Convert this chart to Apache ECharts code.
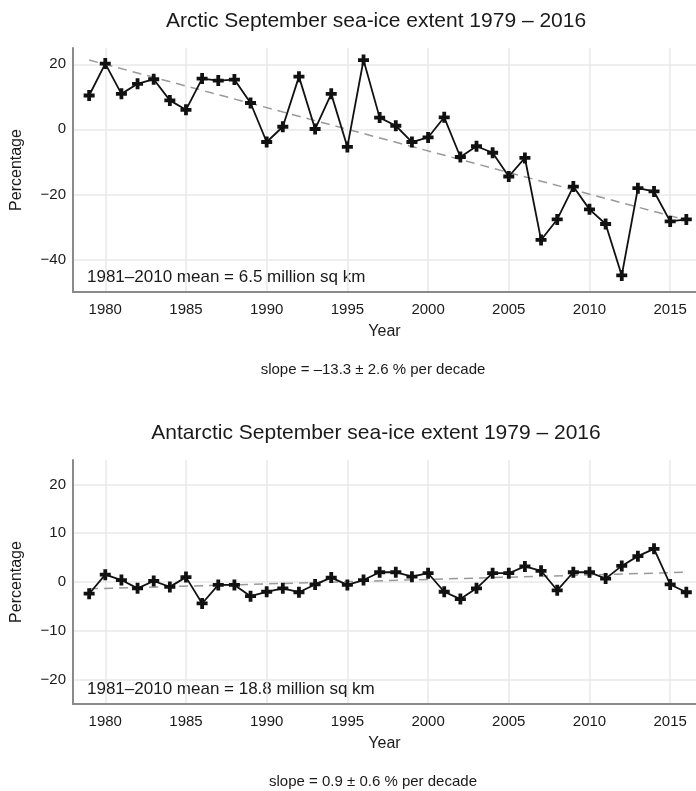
<!DOCTYPE html>
<html>
<head>
<meta charset="utf-8">
<script src="https://cdn.jsdelivr.net/npm/echarts@6/dist/echarts.min.js"></script>
<style>
  html, body { margin: 0; padding: 0; background: #fff; }
  #chart { width: 696px; height: 791px; }
</style>
</head>
<body>
<div id="chart"></div>
<script>
// years on the x axis
const years = [1979, 1980, 1981, 1982, 1983, 1984, 1985, 1986, 1987, 1988,
  1989, 1990, 1991, 1992, 1993, 1994, 1995, 1996, 1997, 1998,
  1999, 2000, 2001, 2002, 2003, 2004, 2005, 2006, 2007, 2008,
  2009, 2010, 2011, 2012, 2013, 2014, 2015, 2016];

// September extent anomaly, % of 1981-2010 mean
const arctic = [10.4, 20.2, 10.9, 14.0, 15.4, 8.9, 6.0, 15.6, 15.0, 15.3,
  8.1, -3.9, 0.8, 16.2, 0.1, 10.9, -5.4, 21.3, 3.6, 1.1,
  -3.9, -2.5, 3.7, -8.5, -5.2, -7.2, -14.5, -8.8, -34.0, -27.7,
  -17.6, -24.6, -29.1, -44.9, -18.1, -19.1, -28.3, -27.7];
const antarctic = [-2.4, 1.5, 0.4, -1.3, 0.2, -1.0, 1.0, -4.4, -0.6, -0.6,
  -2.9, -2.0, -1.3, -2.1, -0.5, 0.9, -0.6, 0.4, 2.0, 2.0,
  1.1, 1.8, -2.0, -3.5, -1.3, 1.8, 1.8, 3.2, 2.3, -1.7,
  2.0, 2.0, 0.7, 3.3, 5.3, 6.8, -0.5, -2.1];

// linear trend end points
const trendYears = [1979, 2016];
const arcticTrend = [21.3, -27.9];
const antarcticTrend = [-1.4, 2.0];

// tick labels
const xTicks = [1980, 1985, 1990, 1995, 2000, 2005, 2010, 2015];
const arcticTicks = [-40, -20, 0, 20];
const antarcticTicks = [-20, -10, 0, 10, 20];

const titles = ['Arctic September sea-ice extent 1979 \u2013 2016', 'Antarctic September sea-ice extent 1979 \u2013 2016'];
const meanText = ['1981\u20132010 mean = 6.5 million sq km', '1981\u20132010 mean = 18.8 million sq km'];
const slopeText = ['slope = \u201313.3 \u00b1 2.6 % per decade', 'slope = 0.9 \u00b1 0.6 % per decade'];

const FONT = '"Liberation Sans", Arial, sans-serif';
const ink = '#1a1a1a';
const plus = 'path://M3.6,0H7.4V3.6H11V7.4H7.4V11H3.6V7.4H0V3.6H3.6Z';

function pairs(xs, ys) {
  return xs.map((x, i) => [x, ys[i]]);
}

function minusFmt(v) {
  return v < 0 ? '\u2212' + Math.abs(v) : String(v);
}

function xAxisFor(idx) {
  return {
    gridIndex: idx,
    type: 'value',
    min: 1978,
    max: 2016.6,
    name: 'Year',
    nameLocation: 'middle',
    nameGap: 32,
    nameTextStyle: { fontSize: 16, color: ink, fontFamily: FONT },
    axisLine: { show: true, onZero: false, lineStyle: { color: '#8a8a8a', width: 2 } },
    axisTick: { show: false, customValues: xTicks },
    axisLabel: { customValues: xTicks, formatter: v => String(v), fontSize: 15, color: ink, margin: 10, fontFamily: FONT },
    splitLine: { show: true, lineStyle: { color: '#e8e8e8', width: 1.5 } }
  };
}

function yAxisFor(idx, min, max, ticks) {
  return {
    gridIndex: idx,
    type: 'value',
    min: min,
    max: max,
    name: 'Percentage',
    nameLocation: 'middle',
    nameGap: 48,
    nameTextStyle: { fontSize: 16, color: ink, fontFamily: FONT },
    axisLine: { show: true, onZero: false, lineStyle: { color: '#8a8a8a', width: 2 } },
    axisTick: { show: false, customValues: ticks },
    axisLabel: { customValues: ticks, formatter: minusFmt, fontSize: 15, color: ink, margin: 7, fontFamily: FONT },
    splitLine: { show: true, lineStyle: { color: '#e8e8e8', width: 1.5 } }
  };
}

function dataSeries(idx, values) {
  return {
    type: 'line',
    xAxisIndex: idx,
    yAxisIndex: idx,
    data: pairs(years, values),
    symbol: plus,
    symbolSize: 11,
    showAllSymbol: true,
    lineStyle: { color: '#111', width: 1.8 },
    itemStyle: { color: '#111' },
    z: 3
  };
}

function trendSeries(idx, values) {
  return {
    type: 'line',
    xAxisIndex: idx,
    yAxisIndex: idx,
    data: pairs(trendYears, values),
    symbol: 'none',
    lineStyle: { color: '#999', width: 1.5, type: [9, 6] },
    z: 2
  };
}

function txt(text, x, y, size, align) {
  return {
    type: 'text',
    x: x,
    y: y,
    style: {
      text: text,
      fill: ink,
      font: size + 'px ' + FONT,
      textAlign: align,
      textVerticalAlign: 'middle',
      align: align,
      verticalAlign: 'middle'
    }
  };
}

const chart = echarts.init(document.getElementById('chart'), null, { renderer: 'canvas' });

const option = {
  animation: false,
  backgroundColor: '#fff',
  textStyle: { fontFamily: FONT },
  grid: [
    { left: 73, right: 0, top: 48, height: 244, outerBoundsMode: 'none', containLabel: false },
    { left: 73, right: 0, top: 460, height: 244, outerBoundsMode: 'none', containLabel: false }
  ],
  xAxis: [xAxisFor(0), xAxisFor(1)],
  yAxis: [yAxisFor(0, -50, 25, arcticTicks), yAxisFor(1, -25, 25, antarcticTicks)],
  series: [
    trendSeries(0, arcticTrend),
    dataSeries(0, arctic),
    trendSeries(1, antarcticTrend),
    dataSeries(1, antarctic)
  ],
  graphic: [
    txt(titles[0], 376, 21, 21, 'center'),
    txt(titles[1], 376, 433, 21, 'center'),
    txt(meanText[0], 87, 277, 17, 'left'),
    txt(meanText[1], 87, 689, 17, 'left'),
    txt(slopeText[0], 373, 370, 15, 'center'),
    txt(slopeText[1], 373, 782, 15, 'center')
  ]
};

chart.setOption(option);
</script>
</body>
</html>
